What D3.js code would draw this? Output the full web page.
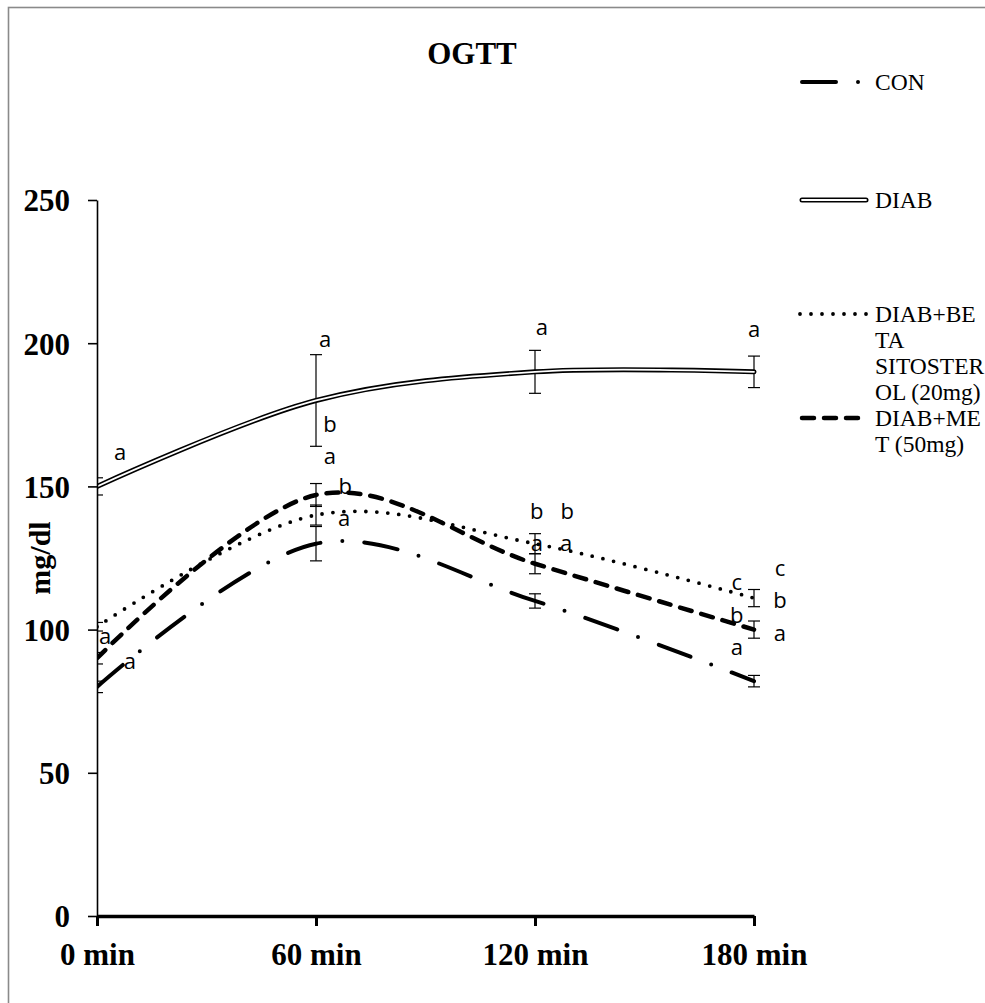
<!DOCTYPE html>
<html>
<head>
<meta charset="utf-8">
<script src="https://cdn.jsdelivr.net/npm/d3@7"></script>
<style>
  html, body { margin: 0; padding: 0; background: #fff; }
  svg { display: block; }
</style>
</head>
<body>
<svg id="chart" width="985" height="1003"></svg>
<script>
// ---------- DATA ----------
const times = [0, 60, 120, 180];
const timeLabels = ["0 min", "60 min", "120 min", "180 min"];
const yTicks = [0, 50, 100, 150, 200, 250];

const conValues  = [80, 130, 110, 82];
const conErr     = [2, 6, 2.5, 2];
const diabValues = [150, 180, 190, 190];
const diabErr    = [3, 16, 7.5, 5.5];
const betaValues = [101, 140, 130, 111];
const betaErr    = [1.5, 3.5, 3.5, 3];
const metValues  = [90, 147, 123, 100];
const metErr     = [2, 4, 3.5, 3];

const legendLabels = [
  ["CON"],
  ["DIAB"],
  ["DIAB+BE", "TA", "SITOSTER", "OL (20mg)"],
  ["DIAB+ME", "T (50mg)"]
];

// significance letters: time (min), value (mg/dl), letter
const letterTimes  = [6.3, 2.2, 9.0, 62.5, 63.8, 63.8, 68, 67.7, 121.9, 120.5, 128.8, 120.5, 128.5, 180, 175.3, 187.1, 187.1, 187.1, 175.3, 175.3];
const letterValues = [162, 97.5, 88.8, 201.5, 171.8, 160.6, 150.1, 139, 205.7, 141.4, 141.4, 130.2, 130.2, 204.8, 116.6, 121.5, 110.3, 98.8, 105.1, 93.9];
const letterTexts  = ["a", "a", "a", "a", "b", "a", "b", "a", "a", "b", "b", "a", "a", "a", "c", "c", "b", "a", "b", "a"];

// ---------- LAYOUT ----------
const svg = d3.select("#chart");
const plotL = 97, plotR = 754, plotT = 200, plotB = 916;

const x = d3.scaleLinear().domain([0, 180]).range([plotL, plotR]);
const y = d3.scaleLinear().domain([0, 250]).range([plotB, plotT]);
const serif = "'Liberation Serif', 'Times New Roman', serif";

// outer border (only top/left visible)
svg.append("rect")
  .attr("x", 8.5).attr("y", 7.5)
  .attr("width", 1100).attr("height", 1100)
  .attr("fill", "none").attr("stroke", "#8a8a8a").attr("stroke-width", 1.6);

// title
svg.append("text")
  .attr("x", 472).attr("y", 64)
  .attr("text-anchor", "middle")
  .style("font-family", serif)
  .style("font-weight", "bold").style("font-size", "31px")
  .text("OGTT");

// y axis title
svg.append("text")
  .attr("transform", `translate(50, ${(plotT + plotB) / 2}) rotate(-90)`)
  .attr("text-anchor", "middle")
  .style("font-family", serif)
  .style("font-weight", "bold").style("font-size", "30px")
  .text("mg/dl");

// clip for plot
svg.append("defs").append("clipPath").attr("id", "plotclip")
  .append("rect").attr("x", plotL).attr("y", 0).attr("width", 985 - plotL).attr("height", plotB);

const plot = svg.append("g").attr("clip-path", "url(#plotclip)");

const series = [
  { name: "CON",  values: conValues,  err: conErr },
  { name: "DIAB", values: diabValues, err: diabErr },
  { name: "BETA", values: betaValues, err: betaErr },
  { name: "MET",  values: metValues,  err: metErr }
];

// error bars
series.forEach(s => {
  const g = plot.append("g");
  times.forEach((t, i) => {
    const cx = x(t), y1 = y(s.values[i] + s.err[i]), y2 = y(s.values[i] - s.err[i]);
    g.append("line").attr("x1", cx).attr("x2", cx).attr("y1", y1).attr("y2", y2)
      .attr("stroke", "#000").attr("stroke-width", 1.2);
    [y1, y2].forEach(yy => {
      g.append("line").attr("x1", cx - 6).attr("x2", cx + 6).attr("y1", yy).attr("y2", yy)
        .attr("stroke", "#000").attr("stroke-width", 1.2);
    });
  });
});

const line = d3.line()
  .x((d, i) => x(times[i]))
  .y(d => y(d))
  .curve(d3.curveCardinal.tension(0));

function styleCon(sel) {
  return sel.attr("fill", "none").attr("stroke", "#000").attr("stroke-width", 4)
    .attr("stroke-linecap", "round").attr("stroke-dasharray", "34 22 0 22");
}
function styleBeta(sel) {
  return sel.attr("fill", "none").attr("stroke", "#000").attr("stroke-width", 3.8)
    .attr("stroke-linecap", "round").attr("stroke-dasharray", "0 11");
}
function styleMet(sel) {
  return sel.attr("fill", "none").attr("stroke", "#000").attr("stroke-width", 4.5)
    .attr("stroke-linecap", "round").attr("stroke-dasharray", "12 10");
}
function drawDiab(g, d) {
  g.append("path").attr("d", d).attr("fill", "none").attr("stroke", "#000")
    .attr("stroke-width", 5).attr("stroke-linecap", "round");
  g.append("path").attr("d", d).attr("fill", "none").attr("stroke", "#fff")
    .attr("stroke-width", 1.8).attr("stroke-linecap", "round");
}

// lines
drawDiab(plot.append("g"), line(diabValues));
styleBeta(plot.append("path").attr("d", line(betaValues)));
styleMet(plot.append("path").attr("d", line(metValues)));
styleCon(plot.append("path").attr("d", line(conValues)));

// axes
const yAxis = svg.append("g").attr("transform", `translate(${plotL},0)`)
  .call(d3.axisLeft(y).tickValues(yTicks).tickSize(9).tickSizeOuter(0).tickPadding(18).tickFormat(d3.format("d")));
yAxis.select(".domain").style("stroke", "#000").style("stroke-width", "1.6px");
yAxis.selectAll(".tick line").style("stroke", "#000").style("stroke-width", "1.6px");
yAxis.selectAll(".tick text").attr("dy", "0.35em")
  .style("font-family", serif).style("font-weight", "bold").style("font-size", "31px").attr("fill", "#000");

const xAxis = svg.append("g").attr("transform", `translate(0,${plotB})`)
  .call(d3.axisBottom(x).tickValues(times).tickSize(10).tickSizeOuter(0).tickPadding(17)
    .tickFormat((d, i) => timeLabels[i]));
xAxis.select(".domain").style("stroke", "#000").style("stroke-width", "3.4px");
xAxis.selectAll(".tick line").style("stroke", "#000").style("stroke-width", "3px");
xAxis.selectAll(".tick text")
  .style("font-family", serif).style("font-weight", "bold").style("font-size", "31px").attr("fill", "#000");

// significance letters
const lg = svg.append("g");
letterTexts.forEach((s, i) => {
  lg.append("text")
    .attr("x", x(letterTimes[i])).attr("y", y(letterValues[i]))
    .attr("text-anchor", "middle").attr("dy", "0.35em")
    .style("font-family", "'Open Sans', 'Noto Sans', sans-serif").style("font-size", "22px")
    .text(s);
});

// legend
const legX0 = 802, legX1 = 866, legTextX = 875;
const legY = [82, 200, 314, 418];
const leg = svg.append("g");
styleCon(leg.append("path").attr("d", `M${legX0},${legY[0]}H${860}`));
drawDiab(leg.append("g"), `M${legX0},${legY[1]}H${legX1}`);
styleBeta(leg.append("path").attr("d", `M${legX0 - 2},${legY[2]}H${legX1 + 1}`));
styleMet(leg.append("path").attr("d", `M${legX0},${legY[3]}H${legX1}`));
legendLabels.forEach((lines, k) => {
  const t = leg.append("text").attr("x", legTextX).attr("y", legY[k])
    .style("font-family", serif).style("font-size", "23.5px");
  lines.forEach((ln, j) => {
    t.append("tspan").attr("x", legTextX).attr("dy", j === 0 ? "0.35em" : "26px").text(ln);
  });
});
</script>
</body>
</html>
